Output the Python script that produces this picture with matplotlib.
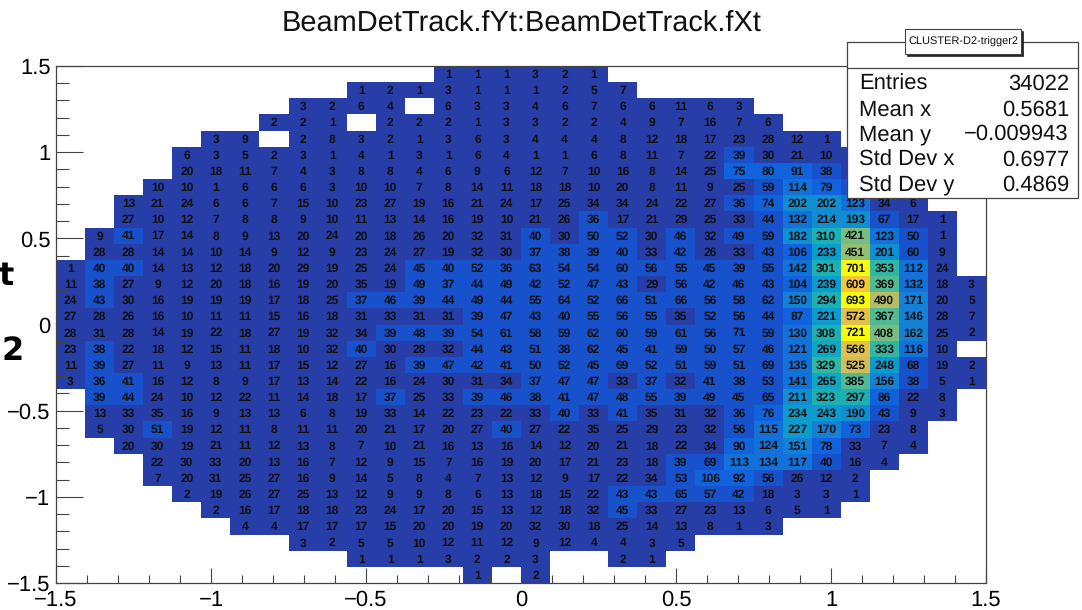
import numpy as np
import matplotlib
matplotlib.use("Agg")
import matplotlib.pyplot as plt
from matplotlib.colors import ListedColormap, BoundaryNorm, LinearSegmentedColormap
from matplotlib.patches import Rectangle
from matplotlib.lines import Line2D
from matplotlib.ticker import MultipleLocator, FixedLocator

plt.rcParams['font.family'] = ['Liberation Sans', 'DejaVu Sans']
plt.rcParams['text.hinting'] = 'no_hinting'
plt.rcParams['text.hinting_factor'] = 1

# Bin contents, top row first, 32 x 32 bins (0 = empty bin)
r00 = [0,0,0,0,0,0,0,0,0,0,0,0,0,1,1,1,3,2,1,0,0,0,0,0,0,0,0,0,0,0,0,0]
r01 = [0,0,0,0,0,0,0,0,0,0,1,2,1,3,1,1,1,2,5,7,0,0,0,0,0,0,0,0,0,0,0,0]
r02 = [0,0,0,0,0,0,0,0,3,2,6,4,0,6,3,3,4,6,7,6,6,11,6,3,0,0,0,0,0,0,0,0]
r03 = [0,0,0,0,0,0,0,2,2,1,0,2,2,2,1,3,3,2,2,4,9,7,16,7,6,0,0,0,0,0,0,0]
r04 = [0,0,0,0,0,3,9,0,2,8,3,2,1,3,6,3,4,4,4,8,12,18,17,23,28,12,1,0,0,0,0,0]
r05 = [0,0,0,0,6,3,5,2,3,1,4,1,3,1,6,4,1,1,6,8,11,7,22,39,30,21,10,4,0,0,0,0]
r06 = [0,0,0,0,20,18,11,7,4,3,8,8,4,6,9,6,12,7,10,16,8,14,25,75,80,91,38,20,0,0,0,0]
r07 = [0,0,0,10,10,1,6,6,6,3,10,10,7,8,14,11,18,18,10,20,8,11,9,25,59,114,79,40,0,0,0,0]
r08 = [0,0,13,21,24,6,6,7,15,10,23,27,19,16,21,24,17,25,34,34,24,22,27,36,74,202,202,123,34,6,0,0]
r09 = [0,0,27,10,12,7,8,8,9,10,11,13,14,16,19,10,21,26,36,17,21,29,25,33,44,132,214,193,67,17,1,0]
r10 = [0,9,41,17,14,8,9,13,20,24,20,18,26,20,32,31,40,30,50,52,30,46,32,49,59,182,310,421,123,50,1,0]
r11 = [0,28,28,14,14,10,14,9,12,9,23,24,27,19,32,30,37,38,39,40,33,42,26,33,43,106,233,451,201,60,9,0]
r12 = [1,40,40,14,13,12,18,20,29,19,25,24,45,40,52,36,63,54,54,60,56,55,45,39,55,142,301,701,353,112,24,0]
r13 = [11,38,27,9,12,20,18,16,19,20,35,19,49,37,44,49,42,52,47,43,29,56,42,46,43,104,239,609,369,132,18,3]
r14 = [24,43,30,16,19,19,19,17,18,25,37,46,39,44,49,44,55,64,52,66,51,66,56,58,62,150,294,693,490,171,20,5]
r15 = [27,28,26,16,10,11,11,15,16,18,31,33,31,31,39,47,43,40,55,56,55,35,52,56,44,87,221,572,367,146,28,7]
r16 = [28,31,28,14,19,22,18,27,19,32,34,39,48,39,54,61,58,59,62,60,59,61,56,71,59,130,308,721,408,162,25,2]
r17 = [23,38,22,18,12,15,11,18,10,32,40,30,28,32,44,43,51,38,62,45,41,59,50,57,46,121,269,566,333,116,10,0]
r18 = [11,39,27,11,9,13,11,17,15,12,27,16,39,47,42,41,50,52,45,69,52,51,59,51,69,135,329,525,248,68,19,2]
r19 = [3,36,41,16,12,8,9,17,13,14,22,16,24,30,31,34,37,47,47,33,37,32,41,38,53,141,265,385,156,38,5,1]
r20 = [0,39,44,24,10,12,22,11,14,18,17,37,25,33,39,46,38,41,47,48,55,39,49,45,65,211,323,297,86,22,8,0]
r21 = [0,13,33,35,16,9,13,13,6,8,19,33,14,22,23,22,33,40,33,41,35,31,32,36,76,234,243,190,43,9,3,0]
r22 = [0,5,30,51,19,12,11,8,11,11,20,21,17,20,27,40,27,22,35,25,29,23,32,56,115,227,170,73,23,8,0,0]
r23 = [0,0,20,30,19,21,11,12,13,8,7,10,21,16,13,16,14,12,20,21,18,22,34,90,124,151,78,33,7,4,0,0]
r24 = [0,0,0,22,30,33,20,13,16,7,12,9,15,7,16,19,20,17,21,23,18,39,69,113,134,117,40,16,4,0,0,0]
r25 = [0,0,0,7,20,31,25,27,16,9,14,5,8,4,7,13,12,9,17,22,34,53,106,92,56,26,12,2,0,0,0,0]
r26 = [0,0,0,0,2,19,26,27,25,13,12,9,9,8,6,13,18,15,22,43,43,65,57,42,18,3,3,1,0,0,0,0]
r27 = [0,0,0,0,0,2,16,17,18,18,23,24,17,20,15,13,12,18,32,45,33,27,23,13,6,5,1,0,0,0,0,0]
r28 = [0,0,0,0,0,0,4,4,17,17,17,15,20,20,19,20,32,30,18,25,14,13,8,1,3,0,0,0,0,0,0,0]
r29 = [0,0,0,0,0,0,0,0,3,2,5,5,10,12,11,12,9,12,4,4,3,5,0,0,0,0,0,0,0,0,0,0]
r30 = [0,0,0,0,0,0,0,0,0,0,1,1,1,3,2,2,3,0,0,2,1,0,0,0,0,0,0,0,0,0,0,0]
r31 = [0,0,0,0,0,0,0,0,0,0,0,0,0,0,1,0,2,0,0,0,0,0,0,0,0,0,0,0,0,0,0,0]

title = "BeamDetTrack.fYt:BeamDetTrack.fXt"
stat_name = "CLUSTER-D2-trigger2"
stat_labels = ["Entries", "Mean x", "Mean y", "Std Dev x", "Std Dev y"]
stat_values = ["34022", "0.5681", "\u22120.009943", "0.6977", "0.4869"]
tick_values = [-1.5, -1, -0.5, 0, 0.5, 1, 1.5]
tick_labels = ["\u22121.5", "\u22121", "\u22120.5", "0", "0.5", "1", "1.5"]

rows = [r00,r01,r02,r03,r04,r05,r06,r07,r08,r09,r10,r11,r12,r13,r14,r15,
        r16,r17,r18,r19,r20,r21,r22,r23,r24,r25,r26,r27,r28,r29,r30,r31]
Z = np.array(rows[::-1], dtype=float)
assert Z.shape == (32, 32)

W, H = 1082, 610
fig = plt.figure(figsize=(W/100, H/100), dpi=100, facecolor='white')
L, R, T, B = 56, 986, 66, 583
ax = fig.add_axes([L/W, 1-B/H, (R-L)/W, (B-T)/H])

# ROOT kBird palette, 20 contour levels
bird = LinearSegmentedColormap.from_list('bird', list(zip(np.linspace(0, 1, 9), [
    (0.2082, 0.1664, 0.5293), (0.0592, 0.3599, 0.8684), (0.0780, 0.5041, 0.8385),
    (0.0232, 0.6419, 0.7914), (0.1802, 0.7178, 0.6425), (0.5301, 0.7492, 0.4662),
    (0.8186, 0.7328, 0.3499), (0.9956, 0.7862, 0.1968), (0.9764, 0.9832, 0.0539)])))
colors = [bird((k+1)/20) for k in range(20)]
cmap = ListedColormap(colors)
levels = np.linspace(0, 718, 21)
levels[-1] = 722
norm = BoundaryNorm(levels, cmap.N)

edges = np.linspace(-1.5, 1.5, 33)
ax.pcolormesh(edges, edges, np.ma.masked_equal(Z, 0), cmap=cmap, norm=norm,
              edgecolors='face', linewidth=0.0, antialiased=False, zorder=1)
centers = 0.5*(edges[:-1]+edges[1:])
for j, yc in enumerate(centers):
    for i, xc in enumerate(centers):
        if Z[j, i] > 0:
            ax.text(xc, yc - 0.004, f"{int(Z[j, i])}", ha='center', va='center',
                    fontsize=8.8, fontweight='bold', color='#111111', zorder=3)

ax.set_xlim(-1.5, 1.5)
ax.set_ylim(-1.5, 1.5)
ax.xaxis.set_major_locator(FixedLocator(tick_values))
ax.yaxis.set_major_locator(FixedLocator(tick_values))
ax.xaxis.set_minor_locator(MultipleLocator(0.1))
ax.yaxis.set_minor_locator(MultipleLocator(0.1))
ax.set_xticklabels(tick_labels)
ax.set_yticklabels(tick_labels)
tc = '#444444'
ax.tick_params(axis='x', which='major', direction='in', length=10.8, width=0.8, color=tc, labelsize=16, pad=5)
ax.tick_params(axis='x', which='minor', direction='in', length=5.8, width=0.8, color=tc)
ax.tick_params(axis='y', which='major', direction='in', length=19.4, width=0.8, color=tc, labelsize=16, pad=4)
ax.tick_params(axis='y', which='minor', direction='in', length=9.4, width=0.8, color=tc)
for s in ax.spines.values():
    s.set_color(tc)
    s.set_linewidth(0.9)

def fx(x): return x/W
def fy(y): return 1-y/H

fig.text(fx(522), fy(23), title, ha='center', va='center', fontsize=20.6, color='#111111')

# Clipped axis-title fragments at the left edge
fig.text(fx(-1), fy(285), "t", ha='left', va='baseline', fontsize=23, fontweight='bold', family='DejaVu Sans', color='black')
fig.text(fx(1), fy(360), "2", ha='left', va='baseline', fontsize=23, fontweight='bold', family='DejaVu Sans', color='black')

# Statistics box
def rect(x0, y0, x1, y1, **kw):
    r = Rectangle((fx(x0), fy(y1)), (x1-x0)/W, (y1-y0)/H, transform=fig.transFigure, **kw)
    fig.add_artist(r)

rect(847, 42, 1078, 198, facecolor='white', edgecolor=tc, linewidth=0.9, zorder=10)
fig.add_artist(Line2D([fx(847), fx(1078)], [fy(68), fy(68)], color=tc, lw=0.9, zorder=11))
rect(907, 31, 1023, 56, facecolor='#222222', edgecolor='#222222', linewidth=0.5, zorder=11)
rect(905, 29, 1021, 54, facecolor='white', edgecolor=tc, linewidth=0.8, zorder=12)
fig.text(fx(963), fy(42), stat_name, ha='center', va='center', fontsize=8, color='#111111', zorder=13)
stat_y = [84, 110, 134.5, 160, 185.5]
for yy, lab, val in zip(stat_y, stat_labels, stat_values):
    fig.text(fx(859), fy(yy), lab, ha='left', va='center', fontsize=16, color='#111111', zorder=13)
    fig.text(fx(1069), fy(yy), val, ha='right', va='center', fontsize=16, color='#111111', zorder=13)

fig.savefig('out.png', dpi=100, facecolor='white')
